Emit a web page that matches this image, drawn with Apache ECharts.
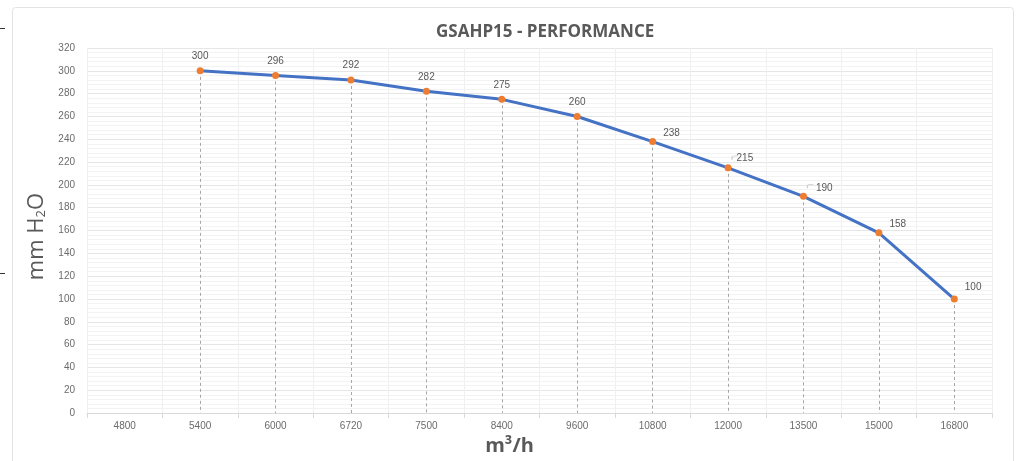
<!DOCTYPE html>
<html>
<head>
<meta charset="utf-8">
<title>GSAHP15 - PERFORMANCE</title>
<script src="https://cdn.jsdelivr.net/npm/echarts@6/dist/echarts.min.js"></script>
<style>
  html, body { margin: 0; padding: 0; background: #ffffff; }
  #chart { width: 1019px; height: 461px; }
</style>
</head>
<body>
<div id="chart"></div>
<script>
// Air flow categories (m³/h) and static pressure (mm H2O)
const flowRates = ['4800', '5400', '6000', '6720', '7500', '8400', '9600', '10800', '12000', '13500', '15000', '16800'];
const pressure = [null, 300, 296, 292, 282, 275, 260, 238, 215, 190, 158, 100];
const yTicks = { min: 0, max: 320, step: 20 };

// Label placement per point: above for the flat part, to the right for the descending part
const labelSide = ['top', 'top', 'top', 'top', 'top', 'top', 'top', 'right', 'right', 'right', 'right', 'right'];
const labelShift = [[0, 0], [0, 0], [0, 0], [0, 0], [0, 0], [0, 0], [0, 0], [2, -8], [0, -10], [4, -8], [2, -9], [2, -12]];
const withLeader = [false, false, false, false, false, false, false, false, true, true, false, false];

const textColor = '#595959';
const tickColor = '#6b6b6b';

const seriesData = pressure.map((v, i) => {
  if (v === null) return '-';
  return {
    value: v,
    label: {
      position: labelSide[i],
      distance: labelSide[i] === 'top' ? 6 : 5,
      offset: labelShift[i]
    }
  };
});

// Dashed drop lines from each point down to the axis
const dropLines = pressure
  .map((v, i) => v === null ? null : [
    { coord: [flowRates[i], v] },
    { coord: [flowRates[i], 0] }
  ])
  .filter(Boolean);

// Short leader marks next to some labels
const leaderMarks = pressure
  .map((v, i) => withLeader[i] ? { value: [flowRates[i], v] } : null)
  .filter(Boolean);

const chart = echarts.init(document.getElementById('chart'), null, { renderer: 'canvas' });

chart.setOption({
  backgroundColor: '#ffffff',
  animation: false,
  graphic: [
    {
      type: 'rect',
      shape: { x: 12.5, y: 7.5, width: 1001, height: 480, r: 3 },
      style: { fill: '#ffffff', stroke: '#e3e3e3', lineWidth: 1 },
      z: -10
    },
    {
      type: 'line',
      shape: { x1: 0, y1: 28.5, x2: 5, y2: 28.5 },
      style: { stroke: '#333333', lineWidth: 1 }
    },
    {
      type: 'line',
      shape: { x1: 0, y1: 273.5, x2: 5, y2: 273.5 },
      style: { stroke: '#333333', lineWidth: 1 }
    }
  ],
  title: {
    text: 'GSAHP15 - PERFORMANCE',
    left: 431,
    top: 19,
    textStyle: {
      fontFamily: 'Open Sans',
      fontWeight: 'bold',
      fontSize: 17,
      color: textColor
    }
  },
  grid: {
    left: 87,
    right: 27,
    top: 48,
    bottom: 46
  },
  xAxis: {
    type: 'category',
    data: flowRates,
    boundaryGap: true,
    name: 'm³/h',
    nameLocation: 'middle',
    nameGap: 19,
    nameTextStyle: {
      fontFamily: 'Open Sans',
      fontWeight: 'bold',
      fontSize: 20,
      color: textColor,
      verticalAlign: 'top',
      padding: [0, 60, 0, 0]
    },
    axisLine: { show: true, lineStyle: { color: '#d9d9d9', width: 1 } },
    axisTick: { show: true, length: 5, lineStyle: { color: '#d9d9d9' } },
    axisLabel: {
      fontFamily: 'Liberation Sans',
      fontSize: 10,
      color: tickColor,
      margin: 8
    },
    splitLine: { show: true, lineStyle: { color: '#f0f0f0', width: 1 } }
  },
  yAxis: {
    type: 'value',
    min: yTicks.min,
    max: yTicks.max,
    interval: yTicks.step,
    name: '{a|mm H}{s|2}{a|O}',
    nameLocation: 'middle',
    nameRotate: 90,
    nameGap: 34,
    nameTextStyle: {
      color: textColor,
      padding: [0, 12, 0, 0],
      rich: {
        a: { fontFamily: 'Open Sans', fontSize: 22, color: textColor, verticalAlign: 'bottom', lineHeight: 28 },
        s: { fontFamily: 'Open Sans', fontSize: 13, color: textColor, verticalAlign: 'bottom', lineHeight: 16 }
      }
    },
    axisLine: { show: false },
    axisTick: { show: false },
    axisLabel: {
      fontFamily: 'Liberation Sans',
      fontSize: 10,
      color: tickColor,
      margin: 12
    },
    splitLine: { show: true, lineStyle: { color: '#e6e6e6', width: 1 } },
    minorTick: { show: false, splitNumber: 5 },
    minorSplitLine: { show: true, lineStyle: { color: '#f3f3f3', width: 1 } }
  },
  series: [
    {
      name: 'Pressure',
      type: 'line',
      data: seriesData,
      symbol: 'circle',
      symbolSize: 7,
      lineStyle: { color: '#4472C4', width: 3 },
      itemStyle: { color: '#ED7D31', borderWidth: 0 },
      label: {
        show: true,
        fontFamily: 'Liberation Sans',
        fontSize: 10,
        color: textColor
      },
      markLine: {
        silent: true,
        symbol: ['none', 'none'],
        label: { show: false },
        lineStyle: { color: '#a6a6a6', type: [3, 3], width: 1 },
        data: dropLines,
        z: 1
      },
      z: 3
    },
    {
      name: 'Leader',
      type: 'scatter',
      data: leaderMarks,
      silent: true,
      symbol: 'path://M0,10 L0,4 Q0,0 6,0 L10,0',
      symbolSize: [6, 4],
      symbolOffset: [7, -10],
      itemStyle: { color: 'none', borderColor: '#bfbfbf', borderWidth: 1 },
      z: 2
    }
  ]
});
</script>
</body>
</html>
